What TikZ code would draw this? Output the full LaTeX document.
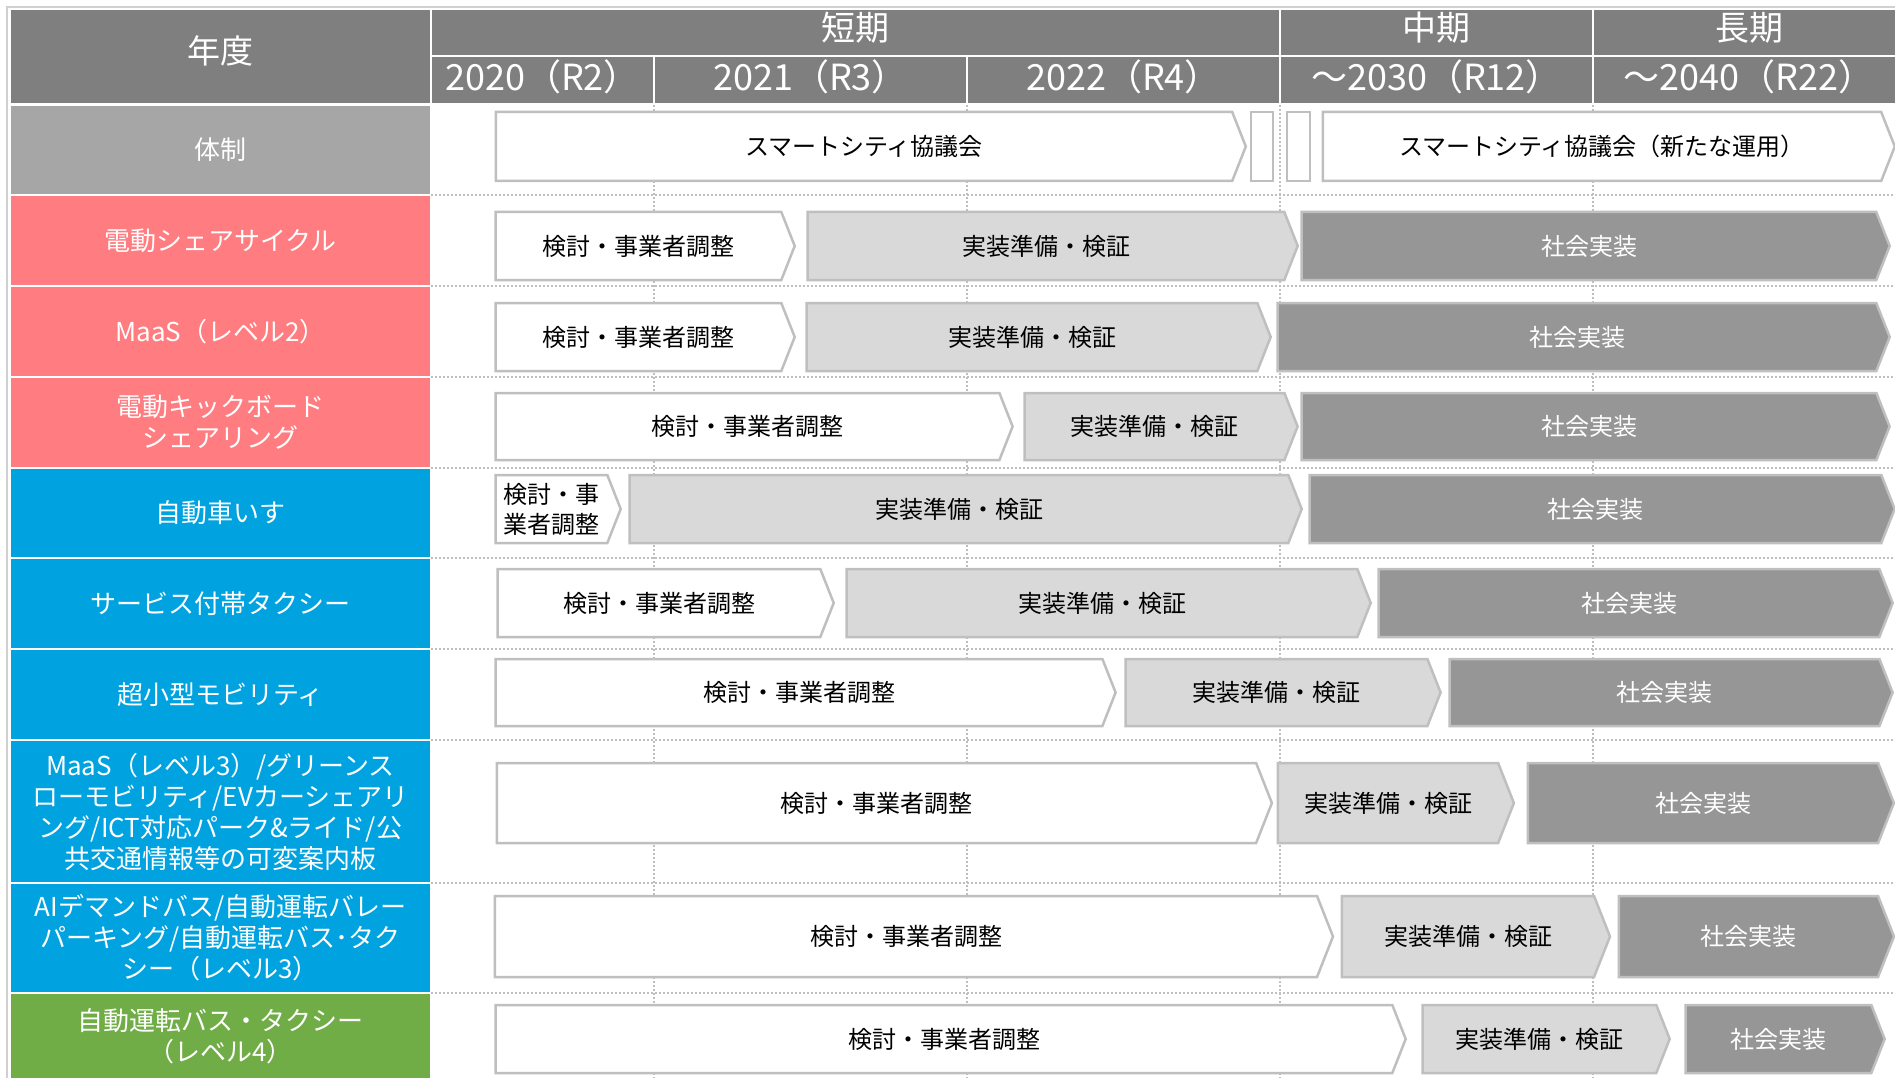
\documentclass[tikz,border=0pt]{standalone}
\usepackage{fontspec}
\setmainfont{Noto Sans CJK JP}
\usepackage{xcolor}
\usetikzlibrary{shapes.symbols}

\definecolor{hdrgray}{HTML}{7F7F7F}
\definecolor{orggray}{HTML}{A6A6A6}
\definecolor{catpink}{HTML}{FF7C80}
\definecolor{catblue}{HTML}{00A3E0}
\definecolor{catgreen}{HTML}{70AD47}
\definecolor{edgegray}{HTML}{BFBFBF}
\definecolor{framegray}{HTML}{D0D0D0}
\definecolor{prepgray}{HTML}{D9D9D9}
\definecolor{livegray}{HTML}{969696}

\begin{document}
\begin{tikzpicture}[
  x=1pt, y=-1pt,
  tabcell/.style={draw=white, line width=2pt, inner sep=0pt},
  hdrcell/.style={tabcell, fill=hdrgray},
  hdrtext/.style={text=white, inner sep=0pt, font=\fontsize{36}{40}\selectfont},
  rowlabel/.style={tabcell, text=white, minimum width=421pt, align=center,
                   font=\fontsize{26}{31}\selectfont},
  phase/.style={signal, signal to=east, signal from=nowhere, signal pointer angle=137,
                draw=edgegray, line width=2.5pt, inner sep=3pt, align=center,
                xshift=-7pt, font=\fontsize{24}{30}\selectfont},
  study/.style={phase, fill=white, text=black},
  prep/.style={phase, fill=prepgray, text=black},
  live/.style={phase, fill=livegray, text=white},
  breakbox/.style={draw=edgegray, line width=2.5pt, fill=white,
                   minimum width=22pt, minimum height=69pt, inner sep=0pt},
  guide/.style={edgegray, line width=2pt, dash pattern=on 2pt off 2pt}
]
  \useasboundingbox (0,0) rectangle (1895,1078);
  \draw[framegray, line width=1.5pt] (7,1078) -- (7,7) -- (1895,7);

  % header
  \node[hdrcell, minimum width=421pt, minimum height=95pt] (hnendo) at (220.5,57) {};
  \node[hdrcell, minimum width=849pt, minimum height=47pt] (hshort) at (855.5,32.5) {};
  \node[hdrcell, minimum width=313pt, minimum height=47pt] (hmid)   at (1436.5,32.5) {};
  \node[hdrcell, minimum width=312pt, minimum height=47pt] (hlong)  at (1749,32.5) {};
  \node[hdrcell, minimum width=223pt, minimum height=48pt] (h2020)  at (542.5,80.5) {};
  \node[hdrcell, minimum width=313pt, minimum height=48pt] (h2021)  at (810.5,80.5) {};
  \node[hdrcell, minimum width=313pt, minimum height=48pt] (h2022)  at (1123.5,80.5) {};
  \node[hdrcell, minimum width=313pt, minimum height=48pt] (h2030)  at (1436.5,80.5) {};
  \node[hdrcell, minimum width=312pt, minimum height=48pt] (h2040)  at (1749,80.5) {};

  \node[hdrtext, font=\fontsize{33}{38}\selectfont] (tnendo) at (220.5,51) {年度};
  \node[hdrtext, font=\fontsize{34}{38}\selectfont] (tshort) at (855.5,28) {短期};
  \node[hdrtext, font=\fontsize{34}{38}\selectfont] (tmid)   at (1436.5,28) {中期};
  \node[hdrtext, font=\fontsize{34}{38}\selectfont] (tlong)  at (1749,28) {長期};
  \node[hdrtext] (t2020) at (542.5,77) {2020（R2）};
  \node[hdrtext] (t2021) at (810.5,77) {2021（R3）};
  \node[hdrtext] (t2022) at (1123.5,77) {2022（R4）};
  \node[hdrtext] (t2030) at (1436.5,77) {～2030（R12）};
  \node[hdrtext] (t2040) at (1749,77) {～2040（R22）};

  % row labels
  \node[rowlabel, fill=orggray,  minimum height=90pt]  (ltaisei) at (220.5,150)    {体制};
  \node[rowlabel, fill=catpink,  minimum height=91pt]  (lcycle)  at (220.5,240.5)  {電動シェアサイクル};
  \node[rowlabel, fill=catpink,  minimum height=91pt]  (lmaas2)  at (220.5,331.5)  {MaaS（レベル2）};
  \node[rowlabel, fill=catpink,  minimum height=91pt]  (lkick)   at (220.5,422.5)  {電動キックボード\\シェアリング};
  \node[rowlabel, fill=catblue,  minimum height=90pt]  (lwheel)  at (220.5,513)    {自動車いす};
  \node[rowlabel, fill=catblue,  minimum height=91pt]  (ltaxi)   at (220.5,603.5)  {サービス付帯タクシー};
  \node[rowlabel, fill=catblue,  minimum height=91pt]  (lmicro)  at (220.5,694.5)  {超小型モビリティ};
  \node[rowlabel, fill=catblue,  minimum height=143pt] (lmaas3)  at (220.5,811.5)  {MaaS（レベル3）/グリーンス\\ローモビリティ/EVカーシェアリ\\ング/ICT対応パーク\&ライド/公\\共交通情報等の可変案内板};
  \node[rowlabel, fill=catblue,  minimum height=110pt] (lauto3)  at (220.5,938)    {AIデマンドバス/自動運転バレー\\パーキング/自動運転バス･タク\\シー（レベル3）};
  \node[rowlabel, fill=catgreen, minimum height=87pt]  (lauto4)  at (220.5,1036.5) {自動運転バス・タクシー\\（レベル4）};

  % guide lines
  \draw[guide] (431,195) -- (1895,195);
  \draw[guide] (431,286) -- (1895,286);
  \draw[guide] (431,377) -- (1895,377);
  \draw[guide] (431,468) -- (1895,468);
  \draw[guide] (431,558) -- (1895,558);
  \draw[guide] (431,649) -- (1895,649);
  \draw[guide] (431,740) -- (1895,740);
  \draw[guide] (431,883) -- (1895,883);
  \draw[guide] (431,993) -- (1895,993);
  \draw[guide] (654,105) -- (654,1078);
  \draw[guide] (967,105) -- (967,1078);
  \draw[guide] (1280,105) -- (1280,1078);
  \draw[guide] (1593,105) -- (1593,1078);

  % council
  \node[study, minimum width=750pt, minimum height=69pt] (council)    at (871,146.5)  {スマートシティ協議会};
  \node[breakbox]                                    (breakA)     at (1262,146.5) {};
  \node[breakbox, minimum width=23pt]                (breakB)     at (1298.5,146.5) {};
  \node[study, minimum width=572pt, minimum height=69pt] (councilnew) at (1609,146.5)  {スマートシティ協議会（新たな運用）};

  % phases per row
  \node[study, minimum width=299pt, minimum height=68pt] (cycstudy)   at (645.5,246)  {検討・事業者調整};
  \node[prep,  minimum width=490pt, minimum height=68pt] (cycprep)    at (1053,246)   {実装準備・検証};
  \node[live,  minimum width=588pt, minimum height=68pt] (cyclive)    at (1596,246)   {社会実装};

  \node[study, minimum width=299pt, minimum height=68pt] (maas2study) at (645.5,337)  {検討・事業者調整};
  \node[prep,  minimum width=464pt, minimum height=68pt] (maas2prep)  at (1039,337)   {実装準備・検証};
  \node[live,  minimum width=612pt, minimum height=68pt] (maas2live)  at (1584,337)   {社会実装};

  \node[study, minimum width=517pt, minimum height=67pt] (kickstudy)  at (754.5,426.5) {検討・事業者調整};
  \node[prep,  minimum width=273pt, minimum height=67pt] (kickprep)   at (1161.5,426.5) {実装準備・検証};
  \node[live,  minimum width=588pt, minimum height=67pt] (kicklive)   at (1596,426.5)  {社会実装};

  \node[study, minimum width=125pt, minimum height=68pt, inner xsep=1pt] (wheelstudy) at (558.5,509) {検討・事\\業者調整};
  \node[prep,  minimum width=672pt, minimum height=68pt] (wheelprep)  at (966,509)    {実装準備・検証};
  \node[live,  minimum width=585pt, minimum height=68pt] (wheellive)  at (1602.5,509) {社会実装};

  \node[study, minimum width=336pt, minimum height=68pt] (taxistudy)  at (666,603)    {検討・事業者調整};
  \node[prep,  minimum width=524pt, minimum height=68pt] (taxiprep)   at (1109,603)   {実装準備・検証};
  \node[live,  minimum width=514pt, minimum height=68pt] (taxilive)   at (1636,603)   {社会実装};

  \node[study, minimum width=620pt, minimum height=67pt] (microstudy) at (806,692.5)  {検討・事業者調整};
  \node[prep,  minimum width=315pt, minimum height=67pt] (microprep)  at (1283.5,692.5) {実装準備・検証};
  \node[live,  minimum width=443pt, minimum height=67pt] (microlive)  at (1671.5,692.5) {社会実装};

  \node[study, minimum width=775pt, minimum height=80pt] (maas3study) at (883.5,803)  {検討・事業者調整};
  \node[prep,  minimum width=236pt, minimum height=80pt] (maas3prep)  at (1395,803)   {実装準備・検証};
  \node[live,  minimum width=366pt, minimum height=80pt] (maas3live)  at (1710,803)   {社会実装};

  \node[study, minimum width=838pt, minimum height=81pt] (auto3study) at (913,936.5)  {検討・事業者調整};
  \node[prep,  minimum width=268pt, minimum height=81pt] (auto3prep)  at (1475,936.5) {実装準備・検証};
  \node[live,  minimum width=275pt, minimum height=81pt] (auto3live)  at (1755.5,936.5) {社会実装};

  \node[study, minimum width=910pt, minimum height=68pt] (auto4study) at (951,1039)   {検討・事業者調整};
  \node[prep,  minimum width=247pt, minimum height=68pt] (auto4prep)  at (1546.5,1039) {実装準備・検証};
  \node[live,  minimum width=199pt, minimum height=68pt] (auto4live)  at (1785.5,1039) {社会実装};
\end{tikzpicture}
\end{document}
